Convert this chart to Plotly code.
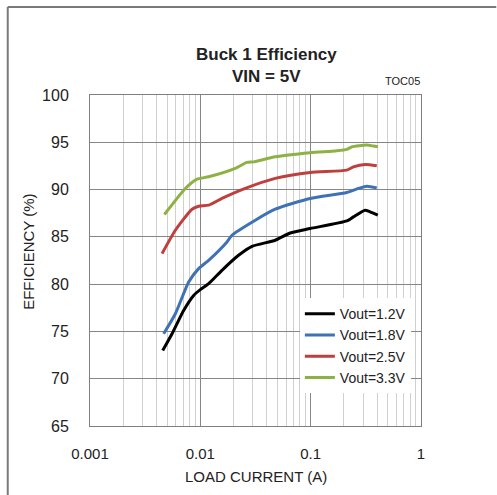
import plotly.graph_objects as go

# ---- data ----
x_12 = [0.00456, 0.00554, 0.00706, 0.00870, 0.0100, 0.0119, 0.0157, 0.0222, 0.0294, 0.0477, 0.0652, 0.099, 0.2126, 0.244, 0.3114, 0.3455, 0.4057]
y_12 = [72.99, 74.76, 77.22, 78.81, 79.42, 80.05, 81.46, 83.05, 84.0, 84.64, 85.41, 85.88, 86.68, 87.11, 87.82, 87.64, 87.29]

x_18 = [0.00465, 0.00594, 0.00784, 0.00965, 0.0119, 0.01744, 0.01936, 0.0315, 0.0477, 0.099, 0.2126, 0.2708, 0.3226, 0.3972]
y_18 = [74.76, 76.87, 80.22, 81.64, 82.52, 84.46, 85.17, 86.76, 87.92, 89.06, 89.69, 90.12, 90.36, 90.18]

x_25 = [0.00450, 0.00594, 0.00841, 0.00965, 0.0119, 0.0157, 0.02554, 0.0477, 0.099, 0.2126, 0.244, 0.3114, 0.3972]
y_25 = [83.23, 85.70, 87.92, 88.24, 88.35, 89.06, 90.12, 91.18, 91.81, 92.06, 92.40, 92.66, 92.51]

x_33 = [0.00472, 0.00732, 0.00934, 0.0119, 0.0207, 0.02646, 0.0304, 0.0477, 0.099, 0.1726, 0.2126, 0.236, 0.3226, 0.370, 0.4057]
y_33 = [87.36, 90.12, 91.10, 91.35, 92.24, 92.87, 92.93, 93.46, 93.89, 94.10, 94.25, 94.52, 94.70, 94.60, 94.52]

series_names = ["Vout=1.2V", "Vout=1.8V", "Vout=2.5V", "Vout=3.3V"]
series_x = [x_12, x_18, x_25, x_33]
series_y = [y_12, y_18, y_25, y_33]
series_colors = ["#000000", "#3f72b5", "#bf3f3c", "#8db142"]

y_ticks = [65, 70, 75, 80, 85, 90, 95, 100]
x_ticks = [0.001, 0.01, 0.1, 1]
x_tick_text = ["0.001", "0.01", "0.1", "1"]

FONT = "Liberation Sans, Arial, sans-serif"

fig = go.Figure()
for nm, xs, ys, c in zip(series_names, series_x, series_y, series_colors):
    fig.add_trace(go.Scatter(x=xs, y=ys, name=nm, mode="lines",
                             line=dict(color=c, width=3, shape="spline", smoothing=0.6)))

# plot area in pixels: x 89.5..421.5, y 95..425.7
W, H = 497, 495
L, R, T, B = 89.5, 421.5, 95.0, 425.7


def px(xp):
    return (xp - L) / (R - L)


def py(yp):
    return (B - yp) / (B - T)


fig.update_layout(
    width=W, height=H,
    margin=dict(l=L, r=W - R, t=T, b=H - B, pad=0),
    paper_bgcolor="white", plot_bgcolor="white",
    font=dict(family=FONT, size=15, color="#222222"),
    showlegend=True,
    legend=dict(x=px(300), y=py(298), xanchor="left", yanchor="top",
                bgcolor="white", borderwidth=0, tracegroupgap=0,
                font=dict(family=FONT, size=14, color="#222222"),
                itemwidth=30),
)

fig.update_xaxes(
    type="log", range=[-3, 0],
    tickvals=x_ticks, ticktext=x_tick_text,
    showgrid=True, gridcolor="#868686", gridwidth=1,
    minor=dict(dtick="D1", showgrid=True, gridcolor="#d0d0d0", gridwidth=1, ticks=""),
    showline=True, linecolor="#7f7f7f", linewidth=1, mirror=True,
    ticks="", ticklabelstandoff=14, zeroline=False,
    tickfont=dict(size=15),
)
fig.update_yaxes(
    range=[65, 100], tickvals=y_ticks,
    showgrid=True, gridcolor="#868686", gridwidth=1,
    showline=True, linecolor="#7f7f7f", linewidth=1, mirror=True,
    ticks="", ticklabelstandoff=17, zeroline=False,
    tickfont=dict(size=16),
)

ann = [
    dict(text="<b>Buck 1 Efficiency</b>", x=px(267), y=py(55), font=dict(size=17)),
    dict(text="<b>VIN = 5V</b>", x=px(267), y=py(77), font=dict(size=17)),
    dict(text="TOC05", x=px(423), y=py(81), xanchor="right", font=dict(size=11)),
    dict(text="LOAD CURRENT (A)", x=px(256), y=py(476), font=dict(size=15)),
    dict(text="EFFICIENCY (%)", x=px(27), y=py(252), textangle=-90, font=dict(size=15)),
]
for a in ann:
    a.setdefault("xanchor", "center")
    fig.add_annotation(xref="paper", yref="paper", showarrow=False, yanchor="middle", **a)

# outer frame (top and left edges)
fig.add_shape(type="line", xref="paper", yref="paper", x0=px(7), y0=py(7), x1=px(497), y1=py(7),
              line=dict(color="#7a7a7a", width=2))
fig.add_shape(type="line", xref="paper", yref="paper", x0=px(7), y0=py(7), x1=px(7), y1=py(495),
              line=dict(color="#7a7a7a", width=2))

fig.write_html("out.html", config={"displayModeBar": False},
               post_script="document.body.style.margin='0';")
